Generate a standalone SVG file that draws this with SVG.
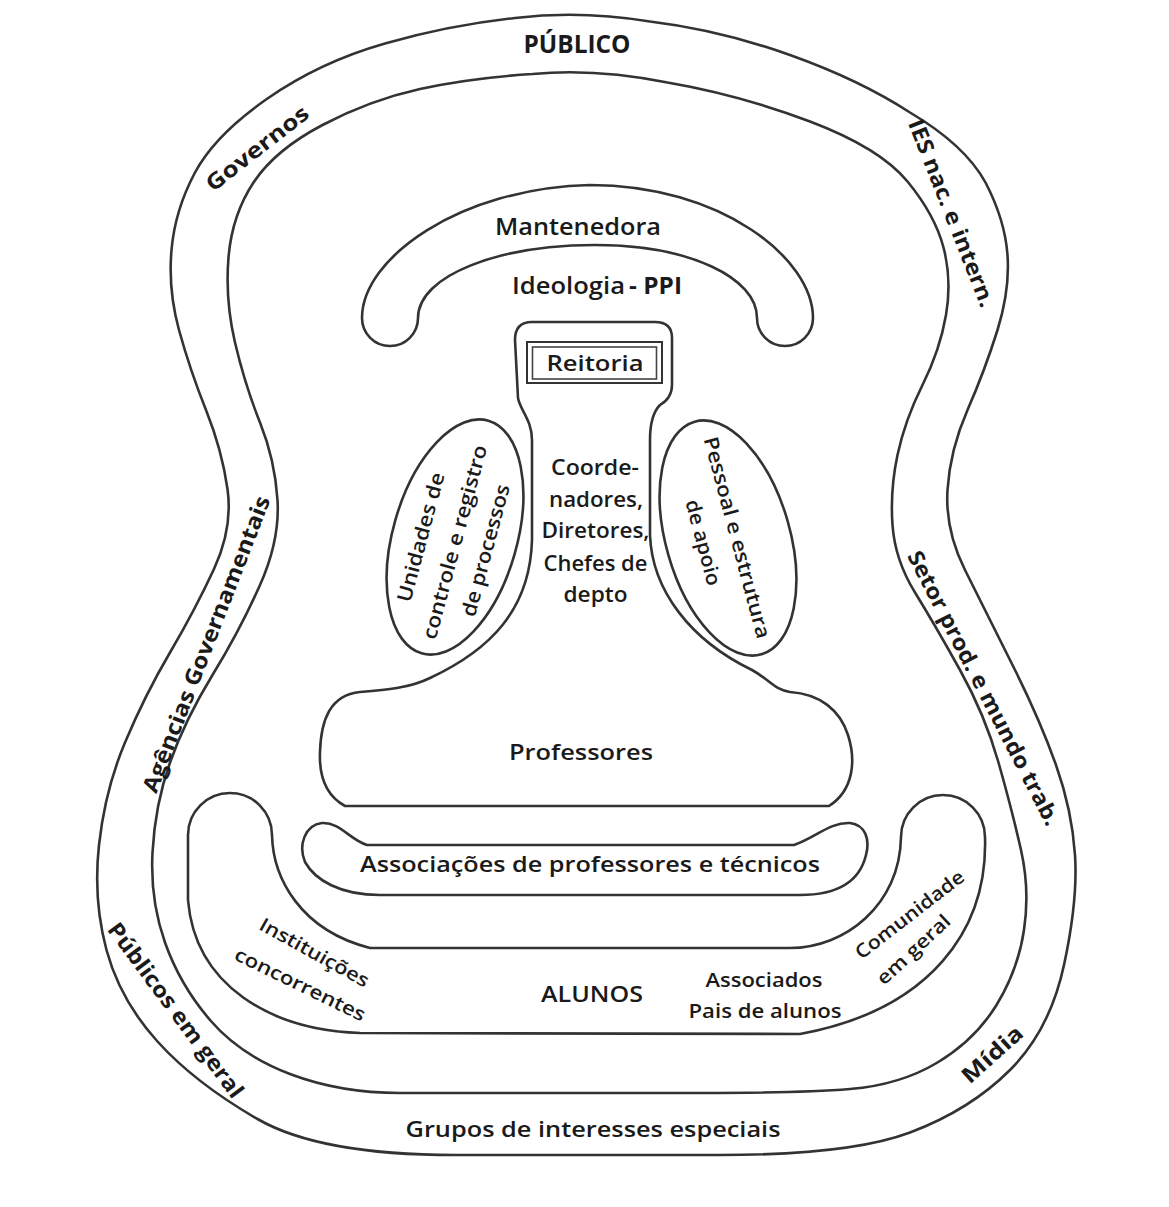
<svg xmlns="http://www.w3.org/2000/svg" width="1169" height="1207" viewBox="0 0 1169 1207">
<style>
.ln{fill:none;stroke:#333;stroke-width:2.6;stroke-linejoin:round}
.t{font-family:"Open Sans","Noto Sans","Liberation Sans",sans-serif;fill:#1a1a1a;text-anchor:middle}
.st{text-anchor:start}
.b{font-weight:700}
.s{font-weight:600}
.r{font-weight:400}
</style>
<rect width="1169" height="1207" fill="#fff"/>

<g id="publico">
<path class="ln" d="M 515,18 Q 580,10 650,21.5 Q 720,30 790,55 Q 860,80 910,112.5 Q 965,145 985.5,182.5 Q 1005,220 1007.5,255 Q 1010,290 997.5,330 Q 985,370 967.5,410 Q 950,450 947.5,490 Q 945,530 965,570 Q 985,610 1012.5,665 Q 1040,720 1056,765 Q 1072,810 1075,855 Q 1078,900 1064,965 Q 1050,1030 1010,1070 Q 970,1110 910,1132.5 Q 850,1155 720,1155 L 455,1155 Q 320,1155 257.5,1119 Q 195,1083 157.5,1041.5 Q 120,1000 106.5,950 Q 93,900 99,845 Q 105,790 125,742.5 Q 145,695 170,652.5 Q 195,610 214,569 Q 233,528 227.5,489 Q 222,450 206,410 Q 190,370 179,330 Q 168,290 171.5,250 Q 175,210 195,172.5 Q 215,135 267.5,98.5 Q 320,62 385,43.5 Q 450,25 515,18 Z"/>
<path class="ln" d="M 532.5,74 Q 595,68 667.5,82.5 Q 740,95 810,121.5 Q 880,148 907.5,181.5 Q 935,215 943.5,247.5 Q 952,280 946,315 Q 940,350 922.5,385 Q 905,420 897.5,455 Q 890,490 892.5,525 Q 895,560 915,592.5 Q 935,625 960,670 Q 985,715 998.5,762.5 Q 1012,810 1021,850 Q 1030,890 1024,930 Q 1018,970 996.5,1005 Q 975,1040 937.5,1062.5 Q 900,1085 850,1089 Q 800,1093 700,1093 L 400,1093 Q 340,1093 290,1074 Q 240,1055 210,1020 Q 180,985 165,942.5 Q 150,900 152.5,852.5 Q 155,805 170,762.5 Q 185,720 212.5,675 Q 240,630 260,585 Q 280,540 277.5,500 Q 275,460 260,422.5 Q 245,385 235,342.5 Q 225,300 228.5,257.5 Q 232,215 253.5,182.5 Q 275,150 322.5,125 Q 370,100 420,89 Q 470,78 532.5,74 Z"/>
<text class="t b" x="577" y="53" font-size="25" textLength="107" lengthAdjust="spacingAndGlyphs">PÚBLICO</text>
<text class="t b" font-size="22" transform="translate(257,148) rotate(-38)" y="8" textLength="124" lengthAdjust="spacingAndGlyphs">Governos</text>
<text class="t b" font-size="22" transform="translate(952,213) rotate(68.4)" y="8" textLength="200" lengthAdjust="spacingAndGlyphs">IES nac. e intern.</text>
<text class="t b" font-size="22" transform="translate(206,644) rotate(-68.8)" y="8" textLength="316" lengthAdjust="spacingAndGlyphs">Agências Governamentais</text>
<text class="t b" font-size="22" transform="translate(984,688) rotate(62.7)" y="8" textLength="306" lengthAdjust="spacingAndGlyphs">Setor prod. e mundo trab.</text>
<text class="t b" font-size="22" transform="translate(176,1010) rotate(53.5)" y="8" textLength="212" lengthAdjust="spacingAndGlyphs">Públicos em geral</text>
<text class="t b" font-size="22" transform="translate(992,1054) rotate(-42)" y="8" textLength="74" lengthAdjust="spacingAndGlyphs">Mídia</text>
<text class="t s" x="593" y="1137" font-size="21" textLength="375" lengthAdjust="spacingAndGlyphs">Grupos de interesses especiais</text>
</g>

<g id="mantenedora">
<path class="ln" d="M 362,318 C 362,258 460,188 590,185 C 720,185 813,258 813,318 A 28,28 0 0 1 757,318 C 757,278 690,245 595,245 C 500,245 418,275 418,318 A 28,28 0 0 1 362,318 Z"/>
<text class="t s" x="578" y="235" font-size="24" textLength="166" lengthAdjust="spacingAndGlyphs">Mantenedora</text>
<text class="t st s" x="512" y="294" font-size="23" textLength="113" lengthAdjust="spacingAndGlyphs">Ideologia</text>
<text class="t st b" x="629" y="294" font-size="23" textLength="53" lengthAdjust="spacingAndGlyphs">- PPI</text>
</g>

<g id="professores">
<path class="ln" d="M 532,322 L 655,322 Q 672,322 672,338 L 672,385 Q 672,398 660,405 Q 650,415 650,440 L 650,535 C 652,590 690,640 752,670 C 770,680 775,690 790,692 C 820,694 840,710 848,735 C 856,760 854,790 829,806 L 345,806 C 325,795 319,775 320,752 C 321,720 330,695 360,692 C 385,690 410,688 430,678 C 490,650 530,610 532,540 L 532,440 C 532,420 520,410 518,398 L 515,340 Q 515,322 532,322 Z"/>
<text class="t s" x="581" y="760" font-size="22" textLength="144" lengthAdjust="spacingAndGlyphs">Professores</text>
</g>

<g id="reitoria">
<rect x="527" y="342" width="135" height="41" fill="none" stroke="#333" stroke-width="2"/>
<rect x="532.5" y="347" width="124" height="32" fill="none" stroke="#444" stroke-width="1.6"/>
<text class="t s" x="595" y="371" font-size="22" textLength="97" lengthAdjust="spacingAndGlyphs">Reitoria</text>
</g>

<g id="coordenadores">
<text class="t s" font-size="21" x="595" y="475" textLength="88" lengthAdjust="spacingAndGlyphs">Coorde-</text>
<text class="t s" font-size="21" x="596" y="507" textLength="94" lengthAdjust="spacingAndGlyphs">nadores,</text>
<text class="t s" font-size="21" x="595.5" y="538" textLength="108" lengthAdjust="spacingAndGlyphs">Diretores,</text>
<text class="t s" font-size="21" x="595.5" y="571" textLength="104" lengthAdjust="spacingAndGlyphs">Chefes de</text>
<text class="t s" font-size="21" x="595.5" y="602" textLength="64" lengthAdjust="spacingAndGlyphs">depto</text>
</g>

<g id="unidades">
<ellipse class="ln" cx="455" cy="537" rx="62" ry="121" transform="rotate(16 455 537)"/>
<g transform="translate(455,537) rotate(-75)">
<text class="t s" font-size="20" x="-9" y="-26" textLength="133" lengthAdjust="spacingAndGlyphs">Unidades de</text>
<text class="t s" font-size="20" x="-5" y="8" textLength="200" lengthAdjust="spacingAndGlyphs">controle e registro</text>
<text class="t s" font-size="20" x="-5" y="40" textLength="136" lengthAdjust="spacingAndGlyphs">de processos</text>
</g>
</g>

<g id="pessoal">
<ellipse class="ln" cx="728" cy="538" rx="62" ry="121" transform="rotate(-16 728 538)"/>
<g transform="translate(728,538) rotate(75)">
<text class="t s" font-size="20" x="2" y="-2" textLength="208" lengthAdjust="spacingAndGlyphs">Pessoal e estrutura</text>
<text class="t s" font-size="20" x="-2" y="32" textLength="88" lengthAdjust="spacingAndGlyphs">de apoio</text>
</g>
</g>

<g id="associacoes">
<path class="ln" d="M 367,845 L 794,845 C 815,838 830,822 850,823 C 866,825 870,840 866,855 C 860,880 840,895 800,895 L 380,895 C 340,895 315,880 305,862 C 298,845 305,825 322,823 C 340,822 350,840 367,845 Z"/>
<text class="t s" x="590" y="872" font-size="22" textLength="460" lengthAdjust="spacingAndGlyphs">Associações de professores e técnicos</text>
</g>

<g id="alunos">
<path class="ln" d="M 188,835 A 42,42 0 0 1 272,835 C 273,878 300,930 370,948 L 790,948 C 845,948 900,905 901,837 A 42,42 0 0 1 985,837 C 988,930 930,1010 800,1034 L 360,1033 C 270,1030 195,985 188,900 Z"/>
<text class="t s" x="592" y="1002" font-size="22" textLength="102" lengthAdjust="spacingAndGlyphs">ALUNOS</text>
<text class="t s" x="764" y="987" font-size="19" textLength="117" lengthAdjust="spacingAndGlyphs">Associados</text>
<text class="t s" x="765" y="1018" font-size="19" textLength="153" lengthAdjust="spacingAndGlyphs">Pais de alunos</text>
<text class="t s" font-size="19" transform="translate(314,953) rotate(29)" y="6" textLength="122" lengthAdjust="spacingAndGlyphs">Instituições</text>
<text class="t s" font-size="19" transform="translate(300,985) rotate(26)" y="6" textLength="143" lengthAdjust="spacingAndGlyphs">concorrentes</text>
<text class="t s" font-size="19" transform="translate(910,915) rotate(-37.6)" y="6" textLength="132" lengthAdjust="spacingAndGlyphs">Comunidade</text>
<text class="t s" font-size="19" transform="translate(914,950) rotate(-43)" y="6" textLength="93" lengthAdjust="spacingAndGlyphs">em geral</text>
</g>
</svg>
